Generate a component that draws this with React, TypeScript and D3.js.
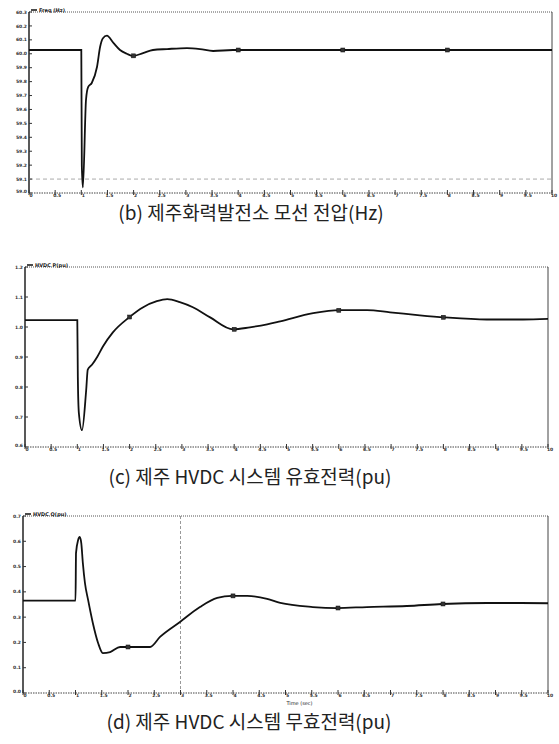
import * as d3 from 'd3';

// time axis (sec), shared by all panels
const timeTicks = d3.range(0, 10.01, 0.5);
const markerTimes = [2, 4, 6, 8];

// (b) bus frequency (Hz)
const freqT = [0, 1.0, 1.01, 1.03, 1.09, 1.13, 1.2, 1.3, 1.36, 1.41, 1.49, 1.61, 1.74, 1.87, 1.99, 2.18, 2.37, 2.64, 3.02, 3.27, 3.52, 3.9, 10];
const freqV = [60.027, 60.027, 59.2, 59.04, 59.67, 59.76, 59.79, 59.905, 60.05, 60.11, 60.13, 60.08, 60.027, 60.0, 59.984, 60.005, 60.027, 60.034, 60.041, 60.034, 60.02, 60.027, 60.027];
const freqTicks = [60.3, 60.2, 60.1, 60.0, 59.9, 59.8, 59.7, 59.6, 59.5, 59.4, 59.3, 59.2, 59.1, 59.0];

// (c) HVDC active power (pu)
const pT = [0, 1.0, 1.01, 1.03, 1.09, 1.17, 1.2, 1.28, 1.38, 1.49, 1.68, 1.99, 2.26, 2.52, 2.72, 2.96, 3.21, 3.54, 3.98, 4.3, 4.63, 4.88, 5.51, 6.02, 6.54, 6.98, 7.55, 8.03, 8.83, 9.52, 10];
const pV = [1.023, 1.023, 0.835, 0.713, 0.656, 0.79, 0.858, 0.874, 0.9, 0.935, 0.982, 1.032, 1.066, 1.086, 1.093, 1.083, 1.066, 1.032, 0.992, 0.999, 1.009, 1.019, 1.046, 1.056, 1.056, 1.049, 1.039, 1.032, 1.025, 1.025, 1.027];
const pTicks = [1.2, 1.1, 1.0, 0.9, 0.8, 0.7, 0.6];

// (d) HVDC reactive power (pu)
const qT = [0, 1.0, 1.01, 1.05, 1.08, 1.11, 1.14, 1.18, 1.24, 1.33, 1.43, 1.52, 1.66, 1.85, 1.94, 2.17, 2.42, 2.61, 2.99, 3.37, 3.7, 3.98, 4.27, 4.65, 4.9, 5.52, 5.98, 6.55, 7.31, 7.98, 8.84, 9.47, 10];
const qV = [0.365, 0.365, 0.554, 0.605, 0.617, 0.593, 0.514, 0.435, 0.368, 0.277, 0.198, 0.158, 0.162, 0.182, 0.182, 0.182, 0.182, 0.222, 0.281, 0.34, 0.376, 0.384, 0.384, 0.372, 0.356, 0.34, 0.336, 0.34, 0.344, 0.352, 0.356, 0.356, 0.355];
const qTicks = [0.7, 0.6, 0.5, 0.4, 0.3, 0.2, 0.1, 0.0];

type PanelProps = {
  t: number[];
  v: number[];
  ticks: number[];
  left: number;
  right: number;
  top: number;
  bottom: number;
  legend: string;
  hLine?: number;
  vLine?: number;
  timeLabel?: boolean;
};

function Panel({ t, v, ticks, left, right, top, bottom, legend, hLine, vLine, timeLabel }: PanelProps) {
  const x = d3.scaleLinear().domain([0, 10]).range([left, right]);
  const y = d3
    .scaleLinear()
    .domain([d3.min(ticks)!, d3.max(ticks)!])
    .range([bottom, top]);
  const pts: [number, number][] = t.map((d, i) => [d, v[i]]);
  const line = d3
    .line<[number, number]>()
    .x(d => x(d[0]))
    .y(d => y(d[1]))
    .curve(d3.curveMonotoneX);
  const interp = (tt: number) => {
    const i = d3.bisectLeft(t, tt);
    const t0 = t[i - 1], t1 = t[i];
    const f = (tt - t0) / (t1 - t0);
    return v[i - 1] + f * (v[i] - v[i - 1]);
  };
  const fmt = d3.format('.1f');

  return (
    <g>
      {/* frame */}
      <line x1={left} x2={right} y1={top} y2={top} stroke="#555" strokeDasharray="1,1" />
      <line x1={right} x2={right} y1={top} y2={bottom} stroke="#444" strokeWidth={1} />
      <line x1={left} x2={left} y1={top} y2={bottom} stroke="#222" strokeWidth={1.5} />
      <line x1={left} x2={right} y1={bottom} y2={bottom} stroke="#444" strokeDasharray="1.5,1" />
      {hLine !== undefined && (
        <line x1={left} x2={right} y1={y(hLine)} y2={y(hLine)} stroke="#aaa" strokeDasharray="4,3" />
      )}
      {vLine !== undefined && (
        <line x1={x(vLine)} x2={x(vLine)} y1={top} y2={bottom} stroke="#999" strokeDasharray="3,2" />
      )}
      {/* y ticks */}
      {ticks.map((d, i) => (
        <g key={d} transform={`translate(${left},${y(d)})`}>
          <line x1={0} x2={3} stroke="#333" />
          <text x={-2} dy={i === ticks.length - 1 ? '-0.1em' : '0.35em'} textAnchor="end" fontSize={4.5} fontWeight="bold" fill="#333" fontFamily="DejaVu Sans">
            {fmt(d)}
          </text>
        </g>
      ))}
      {/* x ticks */}
      {timeTicks.map(d => (
        <g key={d} transform={`translate(${x(d)},${bottom})`}>
          <line y1={-3} y2={2} stroke="#333" />
          <text x={2} y={4} textAnchor="middle" fontSize={4.5} fontWeight="bold" fill="#333" fontFamily="DejaVu Sans">
            {d % 1 === 0 ? d : d.toFixed(1)}
          </text>
        </g>
      ))}
      {/* legend */}
      <line x1={left + 2} x2={left + 8} y1={top - 2} y2={top - 2} stroke="#111" strokeWidth={1.5} />
      <text x={left + 10} y={top} fontSize={5} fill="#222" fontFamily="DejaVu Sans" fontWeight="bold">
        {legend}
      </text>
      {/* curve */}
      <path d={line(pts) ?? ''} fill="none" stroke="#111" strokeWidth={1.8} />
      {markerTimes.map(m => (
        <rect key={m} x={x(m) - 2} y={y(interp(m)) - 2} width={4} height={4} fill="#333" stroke="#111" strokeWidth={0.5} />
      ))}
      {timeLabel && (
        <text x={(left + right) / 2 + 14} y={bottom + 12} textAnchor="middle" fontSize={5} fill="#222" fontFamily="DejaVu Sans">
          Time (sec)
        </text>
      )}
    </g>
  );
}

export default function App() {
  const captionFont = '"Noto Sans CJK KR", "Noto Sans", sans-serif';
  return (
    <svg
      width={559}
      height={744}
      style={{ position: 'absolute', left: 0, top: 0, background: '#fff' }}
    >
      <rect width={559} height={744} fill="#fff" />
      <Panel t={freqT} v={freqV} ticks={freqTicks} left={29} right={552} top={12} bottom={193} legend="Freq (Hz)" hLine={59.1} />
      <text x={251} y={220} textAnchor="middle" fontSize={19} fill="#222" fontFamily={captionFont}>
        (b) 제주화력발전소 모선 전압(Hz)
      </text>
      <Panel t={pT} v={pV} ticks={pTicks} left={25} right={548} top={267} bottom={447} legend="HVDC P(pu)" />
      <text x={250} y={484} textAnchor="middle" fontSize={19} fill="#222" fontFamily={captionFont}>
        (c) 제주 HVDC 시스템 유효전력(pu)
      </text>
      <Panel t={qT} v={qV} ticks={qTicks} left={23} right={548} top={516} bottom={693} legend="HVDC Q(pu)" vLine={3} timeLabel />
      <text x={249} y={729} textAnchor="middle" fontSize={19} fill="#222" fontFamily={captionFont}>
        (d) 제주 HVDC 시스템 무효전력(pu)
      </text>
    </svg>
  );
}
